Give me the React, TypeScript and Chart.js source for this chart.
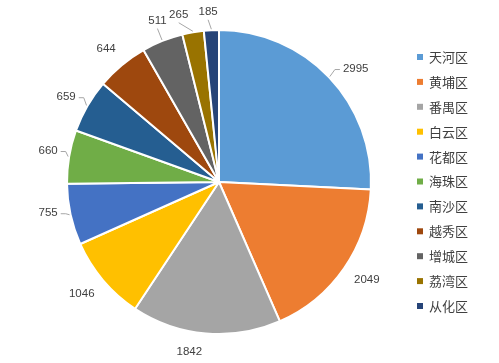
import React, { useEffect, useRef } from "react";
import { Chart, registerables } from "chart.js";

Chart.register(...registerables);

const districts = ["天河区", "黄埔区", "番禺区", "白云区", "花都区", "海珠区", "南沙区", "越秀区", "增城区", "荔湾区", "从化区"];
const values = [2995, 2049, 1842, 1046, 755, 660, 659, 644, 511, 265, 185];
const colors = ["#5B9BD5", "#ED7D31", "#A5A5A5", "#FFC000", "#4472C4", "#70AD47", "#255E91", "#9E480E", "#636363", "#997300", "#264478"];
// label layout tweaks (degrees) and whether a leader line is drawn
const labelAngleNudge = [4, -1, 5, 1, 2, 0.7, -1, -0.5, 1, -3.7, -0.8];
const hasLeader = [true, false, false, false, true, true, true, false, true, true, true];

const LABEL_FONT = '11.5px "Liberation Sans", Arial, sans-serif';
const LEGEND_FONT = '13px "Noto Sans CJK SC", sans-serif';

const labelPlugin = {
  id: "outsideLabels",
  afterDatasetsDraw(chart: any) {
    const ctx = chart.ctx as CanvasRenderingContext2D;
    const meta = chart.getDatasetMeta(0);
    ctx.save();
    ctx.font = LABEL_FONT;
    ctx.textAlign = "center";
    ctx.textBaseline = "middle";
    meta.data.forEach((arc: any, i: number) => {
      const { x, y, startAngle, endAngle, outerRadius } = arc.getProps(["x", "y", "startAngle", "endAngle", "outerRadius"], true);
      const mid = (startAngle + endAngle) / 2;
      const a = mid + (labelAngleNudge[i] * Math.PI) / 180;
      const text = String(values[i]);
      const w = ctx.measureText(text).width;
      const hw = w / 2;
      const hh = 7;
      const c = Math.cos(a);
      const s = Math.sin(a);
      const dist = outerRadius + 11 + hw * Math.abs(c) + hh * Math.abs(s);
      const lx = x + dist * c;
      const ly = y + dist * s;
      ctx.fillStyle = "#404040";
      ctx.fillText(text, lx, ly);
      if (hasLeader[i]) {
        const px = x + (outerRadius + 1) * Math.cos(mid);
        const py = y + (outerRadius + 1) * Math.sin(mid);
        ctx.strokeStyle = "#A6A6A6";
        ctx.lineWidth = 1;
        ctx.beginPath();
        if (Math.abs(c) > 0.6) {
          const side = c < 0 ? 1 : -1;
          const ex = lx + side * (hw + 3);
          ctx.moveTo(ex, ly + 0.5);
          ctx.lineTo(ex + side * 5, ly + 0.5);
          ctx.lineTo(px, py);
        } else {
          ctx.moveTo(lx, ly + hh + 1);
          ctx.lineTo(px, py);
        }
        ctx.stroke();
      }
    });
    ctx.restore();
  },
  afterDraw(chart: any) {
    const ctx = chart.ctx as CanvasRenderingContext2D;
    const labels = chart.data.labels as string[];
    const bg = chart.data.datasets[0].backgroundColor as string[];
    ctx.save();
    ctx.font = LEGEND_FONT;
    ctx.textBaseline = "middle";
    ctx.textAlign = "left";
    labels.forEach((lab, i) => {
      const cy = 57 + i * 24.9;
      ctx.fillStyle = bg[i];
      ctx.fillRect(417, cy - 3, 6, 6);
      ctx.fillStyle = "#404040";
      ctx.fillText(lab, 429, cy);
    });
    ctx.restore();
  },
};

export default function App() {
  const ref = useRef<HTMLCanvasElement>(null);
  useEffect(() => {
    if (!ref.current) return;
    const chart = new Chart(ref.current, {
      type: "pie",
      data: {
        labels: districts,
        datasets: [
          {
            data: values,
            backgroundColor: colors,
            borderColor: "#FFFFFF",
            borderWidth: 2,
          },
        ],
      },
      options: {
        responsive: false,
        animation: false,
        layout: { padding: { left: 66, right: 127, top: 29, bottom: 28 } },
        plugins: {
          legend: { display: false },
          tooltip: { enabled: false },
        },
      },
      plugins: [labelPlugin],
    });
    return () => chart.destroy();
  }, []);
  return (
    <div style={{ position: "fixed", left: 0, top: 0, width: 499, height: 363, background: "#fff" }}>
      <canvas ref={ref} width={499} height={363} style={{ width: 499, height: 363 }} />
    </div>
  );
}
